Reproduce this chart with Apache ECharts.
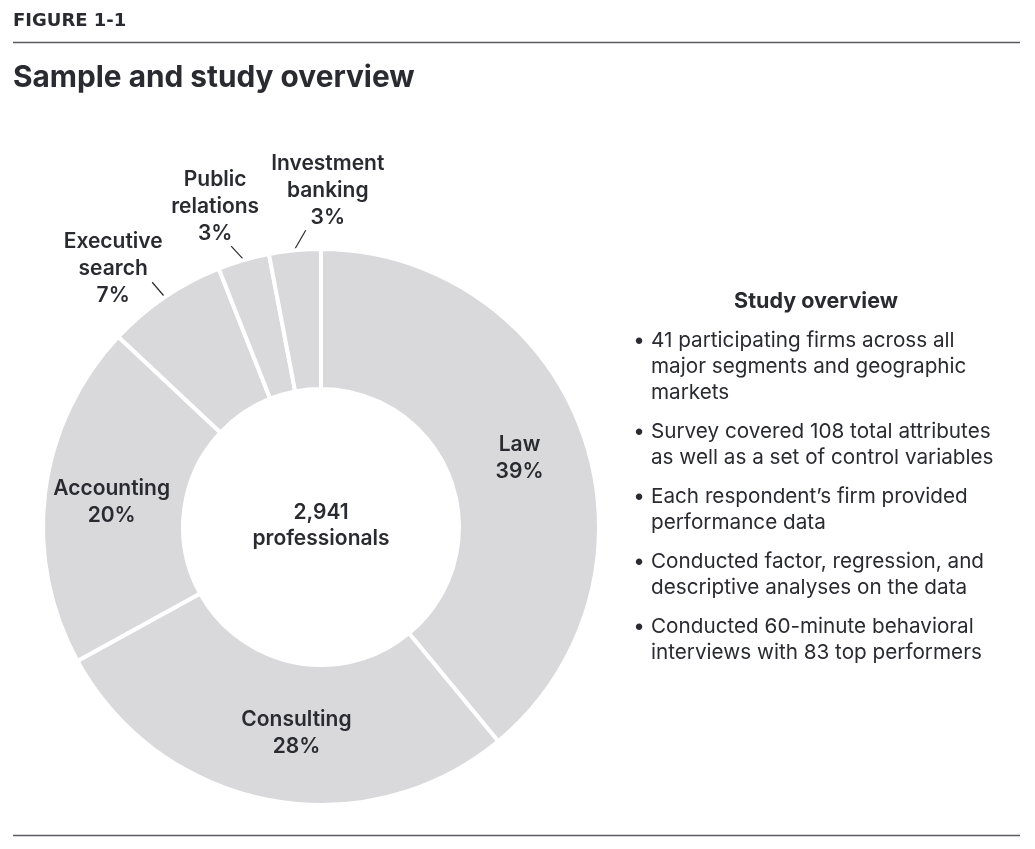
<!DOCTYPE html>
<html><head><meta charset="utf-8">
<script src="https://cdn.jsdelivr.net/npm/echarts@6/dist/echarts.min.js"></script>
<style>html,body{margin:0;padding:0;background:#fff}#c{width:1035px;height:849px}</style>
</head><body><div id="c"></div>
<script>
// ---- data ----
const categories = ['Law', 'Consulting', 'Accounting', 'Executive search', 'Public relations', 'Investment banking'];
const shares = [39, 28, 20, 7, 3, 3];
const totalProfessionals = '2,941';
const centerCaption = 'professionals';
const figureLabel = 'FIGURE 1-1';
const chartTitle = 'Sample and study overview';
const overviewTitle = 'Study overview';
const overviewBullets = [
  ['41 participating firms across all', 'major segments and geographic', 'markets'],
  ['Survey covered 108 total attributes', 'as well as a set of control variables'],
  ['Each respondent\u2019s firm provided', 'performance data'],
  ['Conducted factor, regression, and', 'descriptive analyses on the data'],
  ['Conducted 60-minute behavioral', 'interviews with 83 top performers']
];

// ---- layout / style ----
const FONT = 'Inter, "Liberation Sans", Arial, sans-serif';
const TEXT = '#2a2b31';
const CX = 321, CY = 527, R_OUT = 276, R_IN = 140, BORDER = 4;
const outsideCfg = {
  'Executive search':   { line: [-12, -14], text: [-39, -14] },
  'Public relations':   { line: [-12, -13], text: [-16, -39] },
  'Investment banking': { line: [11, -19],  text: [22, -40] }
};
const insideOffset = { 'Consulting': [15, -1], 'Law': [0, 3], 'Accounting': [0, 2] };

const total = shares.reduce((a, b) => a + b, 0);
function midAngle(i) {
  let cum = 0;
  for (let k = 0; k < i; k++) cum += shares[k];
  return 90 - (cum + shares[i] / 2) / total * 360;
}

const pieData = categories.map((name, i) => {
  const out = !!outsideCfg[name];
  return {
    name: name,
    value: shares[i],
    label: out ? { position: 'outside' } : { position: 'inside', offset: insideOffset[name] || [0, 0] },
    labelLine: { show: out, length: 10, length2: 0 }
  };
});

const graphics = [];
graphics.push({ type: 'text', x: 13, y: 21, style: { text: figureLabel, font: 'bold 18px "DejaVu Sans", ' + FONT, fill: TEXT, textAlign: 'left', textVerticalAlign: 'middle' } });
graphics.push({ type: 'line', shape: { x1: 13, y1: 42.5, x2: 1020, y2: 42.5 }, style: { stroke: '#5a5a5f', lineWidth: 1.5 } });
graphics.push({ type: 'text', x: 13, y: 78, style: { text: chartTitle, font: 'bold 29.8px ' + FONT, fill: TEXT, textAlign: 'left', textVerticalAlign: 'middle' } });
graphics.push({ type: 'line', shape: { x1: 13, y1: 835.5, x2: 1020, y2: 835.5 }, style: { stroke: '#5a5a5f', lineWidth: 1.5 } });
graphics.push({ type: 'text', x: CX, y: 513, style: { text: totalProfessionals, font: '600 21px ' + FONT, fill: TEXT, textAlign: 'center', textVerticalAlign: 'middle' } });
graphics.push({ type: 'text', x: CX, y: 539, style: { text: centerCaption, font: '600 21px ' + FONT, fill: TEXT, textAlign: 'center', textVerticalAlign: 'middle' } });
graphics.push({ type: 'text', x: 816, y: 302, style: { text: overviewTitle, font: 'bold 21.5px ' + FONT, fill: TEXT, textAlign: 'center', textVerticalAlign: 'middle' } });
let by = 341;
overviewBullets.forEach(lines => {
  graphics.push({ type: 'text', x: 639, y: by, style: { text: '\u2022', font: '20.7px ' + FONT, fill: TEXT, textAlign: 'center', textVerticalAlign: 'middle' } });
  lines.forEach((ln, j) => {
    graphics.push({ type: 'text', x: 651, y: by + j * 26, style: { text: ln, font: '20.7px ' + FONT, fill: TEXT, textAlign: 'left', textVerticalAlign: 'middle' } });
  });
  by += lines.length * 26 + 13;
});

const chart = echarts.init(document.getElementById('c'), null, { renderer: 'canvas' });
chart.setOption({
  animation: false,
  backgroundColor: '#ffffff',
  graphic: graphics,
  series: [{
    type: 'pie',
    center: [CX, CY],
    radius: [R_IN - BORDER / 2, R_OUT + BORDER / 2],
    startAngle: 90,
    clockwise: true,
    avoidLabelOverlap: false,
    silent: true,
    itemStyle: { color: '#d9d9db', borderColor: '#ffffff', borderWidth: BORDER },
    label: {
      show: true,
      color: TEXT,
      fontFamily: FONT,
      fontSize: 21,
      fontWeight: 600,
      lineHeight: 27,
      align: 'center',
      formatter: p => p.name.split(' ').join('\n') + '\n' + p.value + '%'
    },
    labelLine: { lineStyle: { color: TEXT, width: 1.2 } },
    labelLayout: function (params) {
      const name = categories[params.dataIndex];
      const cfg = outsideCfg[name];
      if (!cfg) return {};
      const a = midAngle(params.dataIndex) * Math.PI / 180;
      const sx = CX + (R_OUT + 3) * Math.cos(a);
      const sy = CY - (R_OUT + 3) * Math.sin(a);
      const ex = sx + cfg.line[0], ey = sy + cfg.line[1];
      return {
        x: ex + cfg.text[0], y: ey + cfg.text[1],
        align: 'center', verticalAlign: 'middle',
        labelLinePoints: [[sx, sy], [ex, ey]]
      };
    },
    data: pieData
  }]
});
</script></body></html>
